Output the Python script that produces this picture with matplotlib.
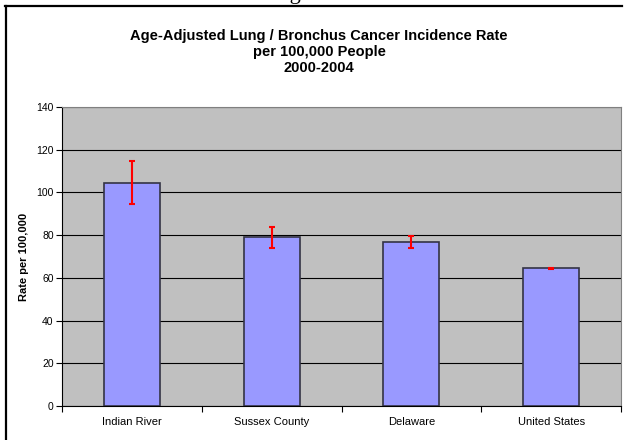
import numpy as np
import matplotlib.pyplot as plt
from matplotlib.lines import Line2D

plt.rcParams['font.family'] = ['Liberation Sans', 'DejaVu Sans']

# valores
areas = ['Indian River', 'Sussex County', 'Delaware', 'United States']
rates = [104.6, 79.0, 76.8, 64.4]
err_low = [10.0, 4.9, 2.8, 0.3]
err_high = [10.1, 4.9, 2.9, 0.3]

fig = plt.figure(figsize=(6.26, 4.4), dpi=100)
ax = fig.add_axes([62/626, 34/440, 559/626, 299/440])

x = np.arange(len(areas))
ax.set_facecolor('#C0C0C0')
ax.bar(x, rates, width=0.4, color='#9999FF', edgecolor='#333344', linewidth=1.2, zorder=3)
ax.errorbar(x, rates, yerr=[err_low, err_high], fmt='none', ecolor='#FF0000',
            elinewidth=1.5, capsize=2.5, capthick=1.5, zorder=4)

ax.set_xlim(-0.5, 3.5)
ax.set_ylim(0, 140)
ax.set_yticks(range(0, 141, 20))
ax.yaxis.grid(True, color='black', linewidth=0.8, zorder=1)
ax.set_axisbelow(True)

ax.set_xticks(x)
ax.set_xticklabels(areas, fontsize=8)
ax.set_xticks(np.arange(-0.5, 3.6, 1), minor=True)
ax.tick_params(axis='x', which='major', length=0, pad=8)
ax.tick_params(axis='x', which='minor', length=4, width=0.8, direction='out')
ax.tick_params(axis='y', labelsize=7.5, length=4, width=0.8, direction='out', pad=2)

for s in ['top', 'right']:
    ax.spines[s].set_color('#808080')
    ax.spines[s].set_linewidth(0.8)
for s in ['left', 'bottom']:
    ax.spines[s].set_color('black')
    ax.spines[s].set_linewidth(0.8)

ax.set_ylabel('Rate per 100,000', fontsize=8, fontweight='bold', labelpad=5)

fig.text(319/626, 1 - 52/440,
         'Age-Adjusted Lung / Bronchus Cancer Incidence Rate\nper 100,000 People\n2000-2004',
         ha='center', va='center', fontsize=10.5, fontweight='bold', linespacing=1.2)

# texto cortado no topo da imagem (como na figura original)
fig.text(300/626, 1 + 1/440, 'Figure', ha='center', va='baseline',
         fontsize=16, family='Liberation Serif')

# moldura (so topo e esquerda ficam visiveis)
fig.add_artist(Line2D([5/626, 622/626], [1 - 6/440, 1 - 6/440], color='black', linewidth=1.6))
fig.add_artist(Line2D([6/626, 6/626], [0, 1 - 6/440], color='black', linewidth=1.6))

plt.savefig('out.png', dpi=100)
